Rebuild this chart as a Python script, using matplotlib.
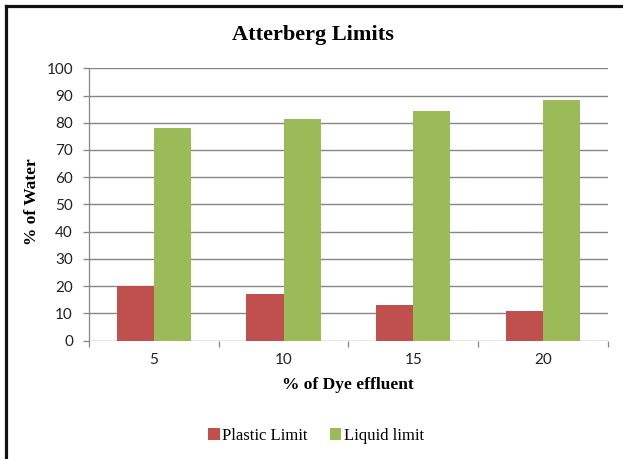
import matplotlib
matplotlib.use("Agg")
import matplotlib.pyplot as plt
from matplotlib.lines import Line2D
from matplotlib.patches import Patch
import numpy as np

# Atterberg limit results for soil mixed with dye effluent
dye_pct = ["5", "10", "15", "20"]
plastic_limit = [20.0, 16.9, 13.0, 10.8]
liquid_limit = [78.0, 81.4, 84.3, 88.2]
y_ticks = [0, 10, 20, 30, 40, 50, 60, 70, 80, 90, 100]

RED = "#C0504D"
GREEN = "#9BBB59"
GRID = "#868686"
SERIF = "Liberation Serif"
SANS = "Lato"

fig = plt.figure(figsize=(6.23, 4.59), dpi=100)
ax = fig.add_axes([89 / 623, 1 - 340.5 / 459, (607.7 - 89) / 623, (340.5 - 68.3) / 459])

x = np.arange(len(dye_pct))
w = 1 / 3.5
ax.bar(x - w / 2, plastic_limit, width=w, color=RED, edgecolor="none", zorder=3)
ax.bar(x + w / 2, liquid_limit, width=w, color=GREEN, edgecolor="none", zorder=3)

ax.set_xlim(-0.5, len(dye_pct) - 0.5)
ax.set_ylim(0, 100)
ax.set_yticks(y_ticks)
ax.yaxis.grid(True, color=GRID, linewidth=1.0, zorder=0)
ax.set_axisbelow(True)

for s in ["top", "right", "bottom"]:
    ax.spines[s].set_visible(False)
ax.spines["left"].set_color(GRID)
ax.spines["left"].set_linewidth(0.9)

ax.tick_params(axis="y", direction="out", length=4.5, width=0.9, color=GRID,
               pad=7, labelsize=11)
ax.set_xticks(x)
ax.set_xticklabels(dye_pct)
ax.set_xticks(np.arange(-0.5, len(dye_pct)), minor=True)
ax.tick_params(axis="x", which="major", length=0, pad=9, labelsize=11)
ax.tick_params(axis="x", which="minor", direction="out", length=4.5, width=0.9,
               color=GRID)
for lab in ax.get_xticklabels() + ax.get_yticklabels():
    lab.set_fontfamily(SANS)
    lab.set_color("#222222")

ax.set_xlabel("% of Dye effluent", fontfamily=SERIF, fontweight="bold",
              fontsize=12.5, labelpad=7)
fig.text(32 / 623, 1 - 202 / 459, "% of Water", rotation=90, ha="center",
         va="center", fontfamily=SERIF, fontweight="bold", fontsize=12.5)
fig.text(313 / 623, 1 - 35 / 459, "Atterberg Limits", ha="center", va="center",
         fontfamily=SERIF, fontweight="bold", fontsize=16)

handles = [Patch(facecolor=RED, label="Plastic Limit"),
           Patch(facecolor=GREEN, label="Liquid limit")]
fig.legend(handles=handles, loc="center", bbox_to_anchor=(316 / 623, 1 - 436 / 459),
           ncol=2, frameon=False, prop={"family": SERIF, "size": 12},
           handlelength=0.7, handleheight=0.7, handletextpad=0.15, columnspacing=1.3)

# outer chart frame (left and top edges)
fig.add_artist(Line2D([5.5 / 623, 5.5 / 623], [0, 1 - 5.5 / 459], color="#111111",
                      linewidth=2.3, solid_capstyle="projecting"))
fig.add_artist(Line2D([5.5 / 623, 1], [1 - 5.5 / 459, 1 - 5.5 / 459], color="#111111",
                      linewidth=2.3, solid_capstyle="projecting"))

fig.savefig("out.png", dpi=100, facecolor="white")
